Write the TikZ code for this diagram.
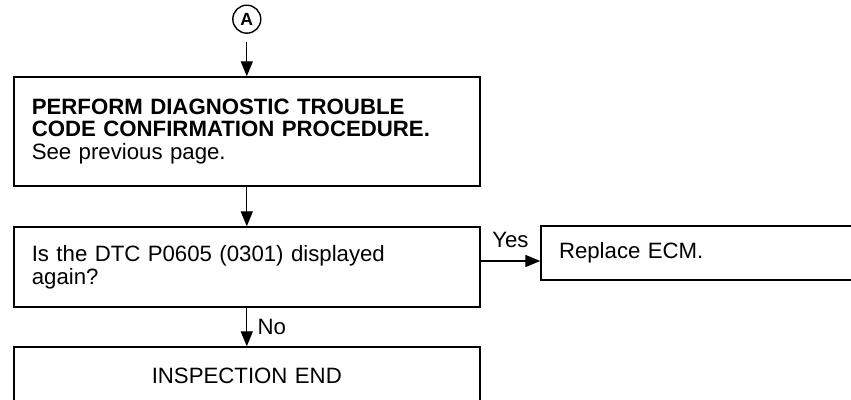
\documentclass[tikz,border=0pt]{standalone}
\usepackage{fontspec}
\setmainfont{Liberation Sans}
\usetikzlibrary{arrows.meta}

\begin{document}
\begin{tikzpicture}[
  font=\fontsize{15.8}{16.2}\selectfont,
  box/.style={draw, line width=1.1pt, align=left, text width=10.75cm, inner xsep=0.45cm, inner ysep=0pt},
  circ/.style={draw, circle, line width=1pt, inner sep=0pt, minimum size=0.7cm, font=\fontsize{12.5}{14}\selectfont\bfseries},
  arrow/.style={-{Triangle[length=0.37cm,width=0.3cm]}, line width=0.8pt}
]
\useasboundingbox (0,0) rectangle (21.275,10);

\node[circ] (A) at (6.17,9.52) {A};
\node[box, minimum height=2.725cm] (perf) at (6.17,6.7125)
  {\textbf{PERFORM DIAGNOSTIC TROUBLE}\\\textbf{CODE CONFIRMATION PROCEDURE.}\\See previous page.};
\node[box, minimum height=2cm] (dtc) at (6.17,3.325)
  {Is the DTC P0605 (0301) displayed\\again?};
\node[box, text width=8.075cm, minimum height=1.35cm] (repl) at (18.0125,3.675)
  {Replace ECM.};
\node[box, align=center, minimum height=1.45cm] (insp) at (6.17,0.6)
  {INSPECTION END};

\draw[arrow, shorten <=0.2cm] (A) -- (perf);
\draw[arrow] (perf) -- (dtc);
\coordinate (yes) at ([yshift=0.15cm]dtc.east);
\draw[arrow] (yes) -- (yes -| repl.west) node[midway, above=6pt] {Yes};
\draw[arrow] (dtc) -- node[right=4pt] {No} (insp);

\end{tikzpicture}
\end{document}
